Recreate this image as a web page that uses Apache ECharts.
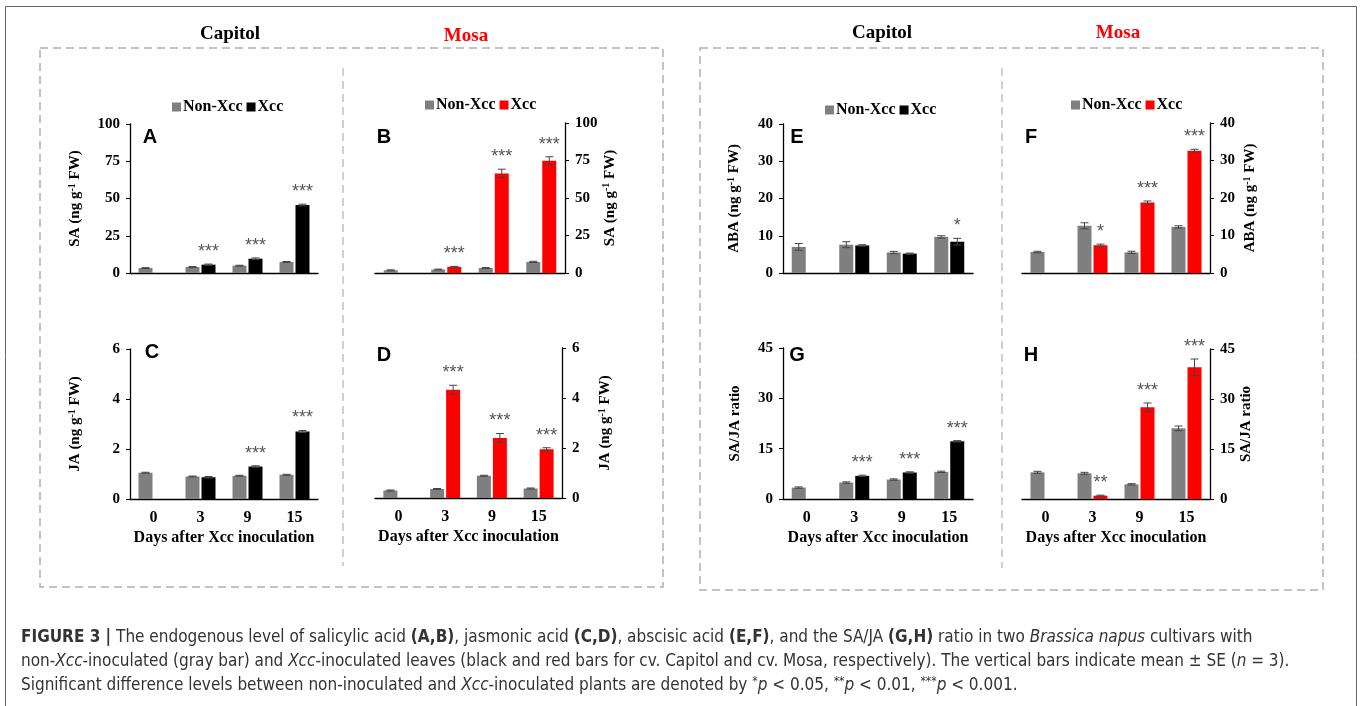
<!DOCTYPE html>
<html>
<head>
<meta charset="utf-8">
<script src="https://cdn.jsdelivr.net/npm/echarts@6/dist/echarts.min.js"></script>
<style>
html,body{margin:0;padding:0;background:#fff;}
#chart{width:1362px;height:706px;}
</style>
</head>
<body>
<div id="chart"></div>
<script>
// ---------- data ----------
const days = ['0', '3', '9', '15'];

// SA (ng g-1 FW)
const saCapitolNon = [3.3, 4.0, 4.9, 7.4];
const saCapitolNonErr = [0.3, 0.3, 0.3, 0.3];
const saCapitolXcc = [null, 5.6, 9.6, 45.6];
const saCapitolXccErr = [0, 0.4, 0.5, 0.6];
const saCapitolSig = ['', '***', '***', '***'];

const saMosaNon = [1.8, 2.3, 3.3, 7.4];
const saMosaNonErr = [0.3, 0.3, 0.3, 0.4];
const saMosaXcc = [null, 4.1, 66.4, 74.9];
const saMosaXccErr = [0, 0.3, 2.8, 2.6];
const saMosaSig = ['', '***', '***', '***'];

// JA (ng g-1 FW)
const jaCapitolNon = [1.05, 0.9, 0.93, 0.97];
const jaCapitolNonErr = [0.02, 0.02, 0.02, 0.02];
const jaCapitolXcc = [null, 0.87, 1.3, 2.7];
const jaCapitolXccErr = [0, 0.03, 0.03, 0.04];
const jaCapitolSig = ['', '', '***', '***'];

const jaMosaNon = [0.3, 0.36, 0.89, 0.38];
const jaMosaNonErr = [0.02, 0.02, 0.02, 0.02];
const jaMosaXcc = [null, 4.33, 2.4, 1.95];
const jaMosaXccErr = [0, 0.18, 0.18, 0.06];
const jaMosaSig = ['', '***', '***', '***'];

// ABA (ng g-1 FW)
const abaCapitolNon = [7.0, 7.6, 5.5, 9.7];
const abaCapitolNonErr = [0.9, 0.8, 0.3, 0.3];
const abaCapitolXcc = [null, 7.4, 5.2, 8.4];
const abaCapitolXccErr = [0, 0.2, 0.15, 0.9];
const abaCapitolSig = ['', '', '', '*'];

const abaMosaNon = [5.6, 12.6, 5.5, 12.3];
const abaMosaNonErr = [0.2, 0.8, 0.3, 0.3];
const abaMosaXcc = [null, 7.4, 18.8, 32.6];
const abaMosaXccErr = [0, 0.3, 0.4, 0.4];
const abaMosaSig = ['', '*', '***', '***'];

// SA/JA ratio
const ratioCapitolNon = [3.4, 4.9, 5.8, 8.1];
const ratioCapitolNonErr = [0.2, 0.2, 0.2, 0.2];
const ratioCapitolXcc = [null, 6.9, 7.9, 17.2];
const ratioCapitolXccErr = [0, 0.2, 0.2, 0.2];
const ratioCapitolSig = ['', '***', '***', '***'];

const ratioMosaNon = [8.0, 7.7, 4.4, 21.2];
const ratioMosaNonErr = [0.3, 0.3, 0.2, 0.7];
const ratioMosaXcc = [null, 1.0, 27.5, 39.5];
const ratioMosaXccErr = [0, 0.15, 1.3, 2.5];
const ratioMosaSig = ['', '**', '***', '***'];

// ---------- layout / style ----------
const SERIF = "'Liberation Serif','Times New Roman',serif";
const SANS = "'Liberation Sans',Arial,sans-serif";
const GRAY = '#7f7f7f';
const RED = '#ff0000';
const BLACK = '#000000';
const BAR_W = 14;
const BAR_GAP_PX = 2;

const panels = [
  {letter:'A', grid:{left:130, top:124, width:188, height:149}, side:'left', max:100, interval:25, name:'SA (ng g{sup|-1} FW)', nameGap:46,
   non:saCapitolNon, nonErr:saCapitolNonErr, xcc:saCapitolXcc, xccErr:saCapitolXccErr, sig:saCapitolSig, color:BLACK, bottom:false},
  {letter:'B', grid:{left:375, top:123, width:190, height:150}, side:'right', max:100, interval:25, name:'SA (ng g{sup|-1} FW)', nameGap:35,
   non:saMosaNon, nonErr:saMosaNonErr, xcc:saMosaXcc, xccErr:saMosaXccErr, sig:saMosaSig, color:RED, bottom:false},
  {letter:'C', grid:{left:130, top:349, width:188, height:150}, side:'left', max:6, interval:2, name:'JA (ng g{sup|-1} FW)', nameGap:46,
   non:jaCapitolNon, nonErr:jaCapitolNonErr, xcc:jaCapitolXcc, xccErr:jaCapitolXccErr, sig:jaCapitolSig, color:BLACK, bottom:true},
  {letter:'D', grid:{left:375, top:348, width:187, height:150}, side:'right', max:6, interval:2, name:'JA (ng g{sup|-1} FW)', nameGap:35,
   non:jaMosaNon, nonErr:jaMosaNonErr, xcc:jaMosaXcc, xccErr:jaMosaXccErr, sig:jaMosaSig, color:RED, bottom:true},
  {letter:'E', grid:{left:783, top:124, width:190, height:149}, side:'left', max:40, interval:10, name:'ABA (ng g{sup|-1} FW)', nameGap:40,
   non:abaCapitolNon, nonErr:abaCapitolNonErr, xcc:abaCapitolXcc, xccErr:abaCapitolXccErr, sig:abaCapitolSig, color:BLACK, bottom:false},
  {letter:'F', grid:{left:1022, top:123, width:188, height:150}, side:'right', max:40, interval:10, name:'ABA (ng g{sup|-1} FW)', nameGap:32,
   non:abaMosaNon, nonErr:abaMosaNonErr, xcc:abaMosaXcc, xccErr:abaMosaXccErr, sig:abaMosaSig, color:RED, bottom:false},
  {letter:'G', grid:{left:783, top:348, width:190, height:151}, side:'left', max:45, interval:15, name:'SA/JA ratio', nameGap:40,
   non:ratioCapitolNon, nonErr:ratioCapitolNonErr, xcc:ratioCapitolXcc, xccErr:ratioCapitolXccErr, sig:ratioCapitolSig, color:BLACK, bottom:true},
  {letter:'H', grid:{left:1022, top:349, width:188, height:150}, side:'right', max:45, interval:15, name:'SA/JA ratio', nameGap:28,
   non:ratioMosaNon, nonErr:ratioMosaNonErr, xcc:ratioMosaXcc, xccErr:ratioMosaXccErr, sig:ratioMosaSig, color:RED, bottom:true}
];

const grids = [], xAxes = [], yAxes = [], series = [];

function errRenderer(offset, sigArr) {
  return function (params, api) {
    const i = api.value(0), v = api.value(1), e = api.value(2);
    if (v === null || v === undefined || isNaN(v)) return null;
    const top = api.coord([i, v + e]);
    const bot = api.coord([i, Math.max(0, v - e)]);
    const x = top[0] + offset;
    const cap = 4;
    const children = [
      {type:'line', shape:{x1:x, y1:top[1], x2:x, y2:bot[1]}, style:{stroke:'#444', lineWidth:1}},
      {type:'line', shape:{x1:x-cap, y1:top[1], x2:x+cap, y2:top[1]}, style:{stroke:'#444', lineWidth:1}},
      {type:'line', shape:{x1:x-cap, y1:bot[1], x2:x+cap, y2:bot[1]}, style:{stroke:'#444', lineWidth:1}}
    ];
    const s = sigArr ? sigArr[params.dataIndex] : '';
    if (s) {
      children.push({type:'text', style:{text:s, x:x, y:top[1]-12, fill:'#555', fontSize:18, fontFamily:SANS, align:'center', verticalAlign:'middle'}});
    }
    return {type:'group', children:children};
  };
}

panels.forEach((p, k) => {
  grids.push(Object.assign({containLabel:false}, p.grid));
  xAxes.push({
    type:'category', gridIndex:k, data:days,
    axisLine:{show:true, lineStyle:{color:'#000', width:1.3}},
    axisTick:{show:false},
    axisLabel:{show:p.bottom, margin:11, color:'#000', fontFamily:SERIF, fontWeight:'bold', fontSize:16},
    name:p.bottom ? 'Days after Xcc inoculation' : '',
    nameLocation:'middle', nameGap:31,
    nameTextStyle:{color:'#000', fontFamily:SERIF, fontWeight:'bold', fontSize:16}
  });
  yAxes.push({
    type:'value', gridIndex:k, position:p.side, min:0, max:p.max, interval:p.interval,
    axisLine:{show:true, lineStyle:{color:'#000', width:1.3}},
    axisTick:{show:true, inside:false, length:4, lineStyle:{color:'#000'}},
    splitLine:{show:false},
    axisLabel:{margin:10, color:'#000', fontFamily:SERIF, fontWeight:'bold', fontSize:15},
    name:p.name, nameLocation:'middle', nameRotate:90, nameGap:p.nameGap,
    nameTextStyle:{color:'#000', fontFamily:SERIF, fontWeight:'bold', fontSize:15,
      rich:{sup:{fontSize:10, fontFamily:SERIF, fontWeight:'bold', color:'#000', padding:[0,0,7,0]}}}
  });
  const off = (BAR_W + BAR_GAP_PX) / 2;
  series.push({
    type:'bar', name:'Non-Xcc', xAxisIndex:k, yAxisIndex:k, data:p.non,
    barWidth:BAR_W, barGap:(BAR_GAP_PX / BAR_W * 100) + '%',
    itemStyle:{color:GRAY}, silent:true
  });
  series.push({
    type:'bar', name:'Xcc', xAxisIndex:k, yAxisIndex:k, data:p.xcc,
    barWidth:BAR_W, barGap:(BAR_GAP_PX / BAR_W * 100) + '%',
    itemStyle:{color:p.color}, silent:true
  });
  series.push({
    type:'custom', xAxisIndex:k, yAxisIndex:k, z:5, clip:false, silent:true,
    renderItem:errRenderer(-off, null),
    encode:{x:0, y:1},
    data:p.non.map((v, i) => [i, v, p.nonErr[i]])
  });
  series.push({
    type:'custom', xAxisIndex:k, yAxisIndex:k, z:5, clip:false, silent:true,
    renderItem:errRenderer(off, p.sig),
    encode:{x:0, y:1},
    data:p.xcc.map((v, i) => [i, v === null ? NaN : v, p.xccErr[i]])
  });
});

// ---------- decorations ----------
const graphics = [];
graphics.push({type:'rect', shape:{x:5.5, y:6.5, width:1351, height:760}, style:{fill:'none', stroke:'#666', lineWidth:1}, silent:true});
const dash = {fill:'none', stroke:'#b0b0b0', lineWidth:1.5, lineDash:[8, 5]};
graphics.push({type:'rect', shape:{x:40, y:48, width:623, height:539}, style:dash, silent:true});
graphics.push({type:'rect', shape:{x:700, y:48, width:623, height:542}, style:dash, silent:true});
graphics.push({type:'line', shape:{x1:343, y1:68, x2:343, y2:566}, style:{stroke:'#b0b0b0', lineWidth:1.2, lineDash:[8, 5]}, silent:true});
graphics.push({type:'line', shape:{x1:1002, y1:68, x2:1002, y2:568}, style:{stroke:'#b0b0b0', lineWidth:1.2, lineDash:[8, 5]}, silent:true});

function title(text, x, y, color) {
  graphics.push({type:'text', x:x, y:y, silent:true,
    style:{text:text, fill:color, fontFamily:SERIF, fontWeight:'bold', fontSize:19, align:'center', verticalAlign:'middle'}});
}
title('Capitol', 230, 34, '#000');
title('Mosa', 466, 36, RED);
title('Capitol', 882, 33, '#000');
title('Mosa', 1118, 33, RED);

function legend(x, y, xccColor) {
  graphics.push({type:'text', x:x, y:y, silent:true,
    style:{text:'{g|}{t|Non-Xcc }{k|}{t|Xcc}', align:'left', verticalAlign:'middle',
      rich:{
        g:{width:9, height:9, backgroundColor:GRAY},
        k:{width:9, height:9, backgroundColor:xccColor},
        t:{fontFamily:SERIF, fontWeight:'bold', fontSize:16, fill:'#000', color:'#000', padding:[0,0,0,2]}
      }}});
}
legend(172, 107, BLACK);
legend(425, 105, RED);
legend(825, 110, BLACK);
legend(1071, 105, RED);

const letterPos = {A:[150,137], B:[384,137], C:[152,352], D:[384,355], E:[797,137], F:[1031,137], G:[797,355], H:[1031,355]};
panels.forEach(p => {
  const pos = letterPos[p.letter];
  graphics.push({type:'text', x:pos[0], y:pos[1], silent:true,
    style:{text:p.letter, fill:'#000', fontFamily:SANS, fontWeight:'bold', fontSize:20, align:'center', verticalAlign:'middle'}});
});

const CAP_FONT = "'Liberation Sans Narrow','DejaVu Sans Condensed','Liberation Sans',sans-serif";
const captionText =
  '{b|FIGURE 3 |} The endogenous level of salicylic acid {b|(A,B)}, jasmonic acid {b|(C,D)}, abscisic acid {b|(E,F)}, and the SA/JA {b|(G,H)} ratio in two {i|Brassica napus} cultivars with\n' +
  'non-{i|Xcc}-inoculated (gray bar) and {i|Xcc}-inoculated leaves (black and red bars for cv. Capitol and cv. Mosa, respectively). The vertical bars indicate mean \u00b1 SE ({i|n} = 3).\n' +
  'Significant difference levels between non-inoculated and {i|Xcc}-inoculated plants are denoted by {s|*}{i|p} < 0.05, {s|**}{i|p} < 0.01, {s|***}{i|p} < 0.001.';
graphics.push({type:'text', x:21, y:626, silent:true,
  style:{text:captionText, fill:'#333', fontFamily:CAP_FONT, fontSize:17, lineHeight:24, align:'left', verticalAlign:'top',
    rich:{
      b:{fontFamily:CAP_FONT, fontWeight:'bold', fontSize:17, color:'#222', lineHeight:24},
      i:{fontFamily:CAP_FONT, fontStyle:'italic', fontSize:17, color:'#333', lineHeight:24},
      s:{fontFamily:CAP_FONT, fontSize:12, color:'#333', lineHeight:24, padding:[0,0,8,0]}
    }}});

const chart = echarts.init(document.getElementById('chart'), null, {renderer:'canvas'});
chart.setOption({
  animation:false,
  backgroundColor:'#fff',
  grid:grids, xAxis:xAxes, yAxis:yAxes, series:series,
  graphic:graphics
});
</script>
</body>
</html>
